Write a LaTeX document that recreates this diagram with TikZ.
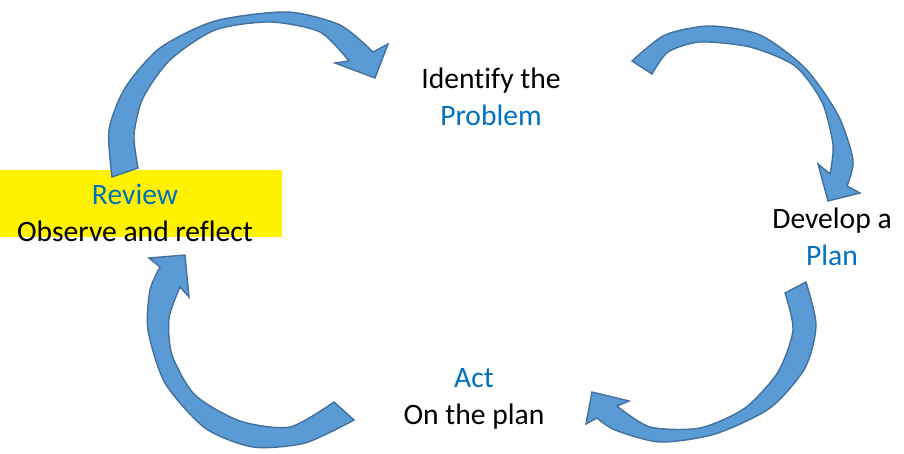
\documentclass[tikz,border=0pt]{standalone}
\usepackage{fontspec}
\setmainfont[Ligatures=NoCommon]{Carlito}
\definecolor{pfeilblau}{HTML}{5B9BD5}
\definecolor{randblau}{HTML}{41719C}
\definecolor{textblau}{HTML}{0070C0}
\tikzset{
  pfeil/.style={fill=pfeilblau, draw=randblau, line width=1.4pt, line join=miter},
  schrift/.style={align=center, inner sep=0pt, font=\fontsize{29.6}{37}\selectfont}
}

\begin{document}
\begin{tikzpicture}[x=1pt, y=-1pt]
    \useasboundingbox (0,0) rectangle (904,453);

    % Gelber Kasten hinter dem Review-Text
    \fill[yellow] (0,170) rectangle (282,237);

    % Texte der vier Schritte
    \node[schrift] (problem) at (491,97) {Identify the\\\textcolor{textblau}{Problem}};
    \node[schrift] (plan) at (832,237) {Develop a\\\textcolor{textblau}{Plan}};
    \node[schrift] (act) at (474,399) {\textcolor{textblau}{Act}\\On the plan};
    \node[schrift] (review) at (135,213) {\textcolor{textblau}{Review}\\Observe and reflect};

    % Pfeil von Review nach Problem
    \filldraw[pfeil] plot[smooth, tension=0.45] coordinates {(112,177) (109,130) (125,88) (160,48) (215,21) (287,12) (340,25) (373,52)}
        -- (388,44) -- (375,78) -- (335,63)
        -- plot[smooth, tension=0.45] coordinates {(349,61) (320,32) (270,22) (215,30) (170,60) (143,98) (134,135) (138,168)} -- cycle;

    % Pfeil von Problem nach Plan
    \filldraw[pfeil] plot[smooth, tension=0.45] coordinates {(632,61) (665,35) (710,26) (760,35) (805,68) (838,115) (853,160) (847,186)}
        -- (860,193) -- (828,201) -- (818,164)
        -- plot[smooth, tension=0.45] coordinates {(830,174) (833,145) (822,102) (795,66) (750,47) (700,42) (668,52) (652,74)} -- cycle;

    % Pfeil von Plan nach Act
    \filldraw[pfeil] plot[smooth, tension=0.45] coordinates {(806,282) (816,325) (805,368) (770,408) (715,434) (660,442) (615,430) (597,418)}
        -- (586,424) -- (592,392) -- (629,401)
        -- plot[smooth, tension=0.45] coordinates {(617,406) (650,427) (700,428) (745,408) (778,372) (793,330) (785,293)} -- cycle;

    % Pfeil von Act nach Review
    \filldraw[pfeil] plot[smooth, tension=0.45] coordinates {(354,420) (305,443) (253,447) (205,428) (165,383) (148,330) (150,290) (160,267)}
        -- (149,258) -- (185,255) -- (189,297)
        -- plot[smooth, tension=0.45] coordinates {(180,287) (169,318) (172,355) (195,395) (240,421) (290,427) (334,402)} -- cycle;
\end{tikzpicture}
\end{document}
